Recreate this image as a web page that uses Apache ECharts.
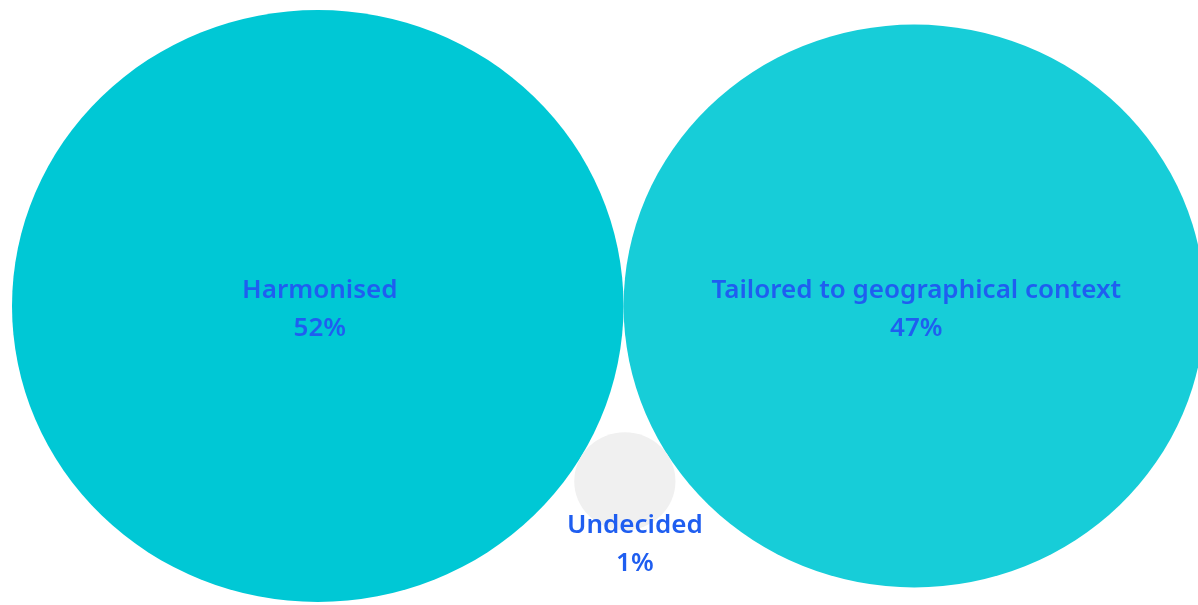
<!DOCTYPE html>
<html>
<head>
<meta charset="utf-8">
<script src="https://cdn.jsdelivr.net/npm/echarts@6/dist/echarts.min.js"></script>
<style>
  html, body { margin: 0; padding: 0; background: #ffffff; }
  #chart { width: 1198px; height: 605px; }
</style>
</head>
<body>
<div id="chart"></div>
<script>
// Survey answers and their shares (%)
const categories = ['Harmonised', 'Tailored to geographical context', 'Undecided'];
const shares = [52, 47, 1];
const bubbleColors = ['#00c8d5', '#17cdd8', '#f0f0f0'];

const W = 1198, H = 605;
const LEFT_PAD = 12;          // gap before the first bubble
const CENTRE_Y = 306;         // shared vertical centre of the two large bubbles
const STRETCH = 1.033;        // horizontal aspect of the bubbles
const SCALE = 82.1;           // diameter per sqrt(share)
const MIN_D = 98;             // smallest drawable bubble

// bubble diameter (vertical) grows with the square root of the share
function diameter(v) { return Math.max(SCALE * Math.sqrt(v), MIN_D); }

// Pack: first two bubbles side by side and touching, the third nestled
// below the point where they meet, touching both.
function pack(values) {
  const r = values.map(v => diameter(v) / 2);
  const x0 = LEFT_PAD / STRETCH + r[0];
  const x1 = x0 + r[0] + r[1];
  const dA = r[0] + r[2], dB = r[1] + r[2], d = r[0] + r[1];
  const a = (dA * dA - dB * dB + d * d) / (2 * d);
  const h = Math.sqrt(Math.max(dA * dA - a * a, 0));
  return [
    [x0 * STRETCH, CENTRE_Y],
    [x1 * STRETCH, CENTRE_Y],
    [(x0 + a) * STRETCH, CENTRE_Y + h]
  ];
}

const centres = pack(shares);

const labelBase = {
  show: true,
  color: '#1f5ef0',
  fontFamily: '"Noto Sans", "Open Sans", sans-serif',
  fontWeight: 600,
  fontSize: 26,
  lineHeight: 38,
  align: 'center',
  formatter: p => p.name + '\n' + p.value[2] + '%'
};

const seriesData = categories.map((name, i) => ({
  name: name,
  value: [centres[i][0], centres[i][1], shares[i]],
  symbolSize: [diameter(shares[i]) * STRETCH, diameter(shares[i])],
  itemStyle: { color: bubbleColors[i], opacity: 1 },
  label: i < 2
    ? Object.assign({}, labelBase, { position: 'inside', offset: [2, 4] })
    : Object.assign({}, labelBase, { position: 'inside', offset: [10, 63] })
}));

const chart = echarts.init(document.getElementById('chart'), null, { renderer: 'canvas' });
chart.setOption({
  animation: false,
  backgroundColor: '#ffffff',
  grid: { left: 0, right: 0, top: 0, bottom: 0 },
  xAxis: { type: 'value', min: 0, max: W, show: false },
  yAxis: { type: 'value', min: 0, max: H, inverse: true, show: false },
  series: [{
    type: 'scatter',
    symbol: 'circle',
    data: seriesData,
    emphasis: { disabled: true }
  }]
});
</script>
</body>
</html>
